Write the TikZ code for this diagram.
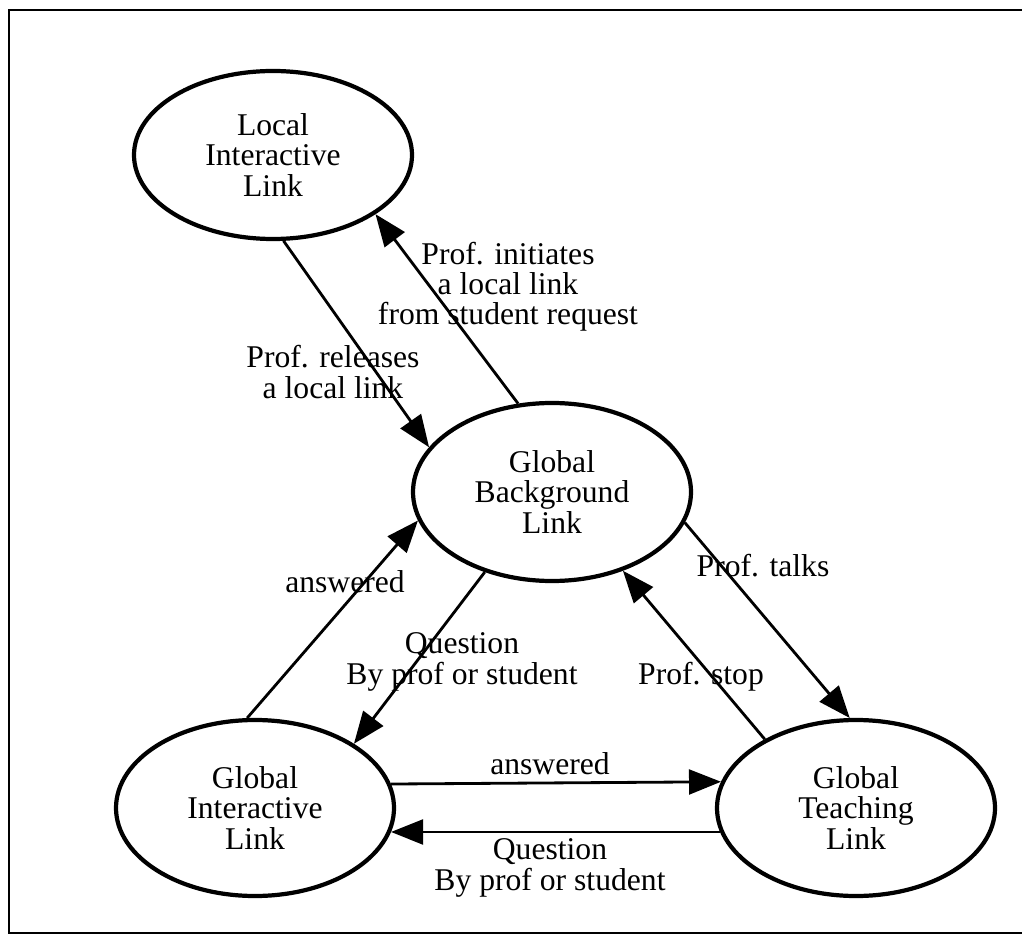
\documentclass[tikz,border=0pt]{standalone}
\usepackage{fontspec}
\setmainfont{Liberation Serif}
\usetikzlibrary{arrows.meta, shapes.geometric}

\begin{document}
\begin{tikzpicture}[font=\fontsize{22.5}{21.5}\selectfont,
    state/.style={draw,ellipse,line width=3pt,minimum width=6.95cm,minimum height=4.4cm,inner sep=1pt,align=center},
    lbl/.style={align=center,inner sep=0pt},
    arr/.style={-{Triangle[length=0.8cm,width=0.62cm]},line width=2pt}]
    \useasboundingbox (0,0) rectangle (25.55,23.4);
    % frame
    \draw[line width=2pt] (25.55,23.15) -- (0.225,23.15) -- (0.225,0.075) -- (25.55,0.075);
    % states
    \node[state,minimum height=4.2cm] (lil) at (6.825,19.525) {Local\\Interactive\\Link};
    \node[state,minimum height=4.45cm] (gbl) at (13.8,11.1)   {Global\\Background\\Link};
    \node[state] (gil) at (6.375,3.2) {Global\\Interactive\\Link};
    \node[state] (gtl) at (21.4,3.2)  {Global\\Teaching\\Link};
    % transitions
    \draw[arr](lil.-83)--(gbl.160);\draw[arr](gbl.111)--(lil.-30);
    \draw[arr](gbl.-13)--(gtl.94);\draw[arr](gtl.143)--(gbl.-48);
    \draw[arr](gil.95)--(gbl.192);\draw[arr](gbl.230)--(gil.33);
    \draw[arr](gil.10.7)--(gtl.169.3);\draw[arr](gtl.190.7)--(gil.-10.7);
    % labels
    \node[lbl] (releases)  at (8.325,14.1)  {Prof. releases\\a local link};
    \node[lbl] (initiates) at (12.7,16.225) {Prof. initiates\\a local link\\from student request};
    \node[lbl] (talks)     at (19.075,9.25) {Prof. talks};
    \node[lbl] (stop)      at (17.525,6.475){Prof. stop};
    \node[lbl] (ansup)     at (8.625,8.85)  {answered};
    \node[lbl] (qup)       at (11.55,6.85)  {Question\\By prof or student};
    \node[lbl] (anslow)    at (13.75,4.3)   {answered};
    \node[lbl] (qlow)      at (13.75,1.7)   {Question\\By prof or student};
\end{tikzpicture}
\end{document}
